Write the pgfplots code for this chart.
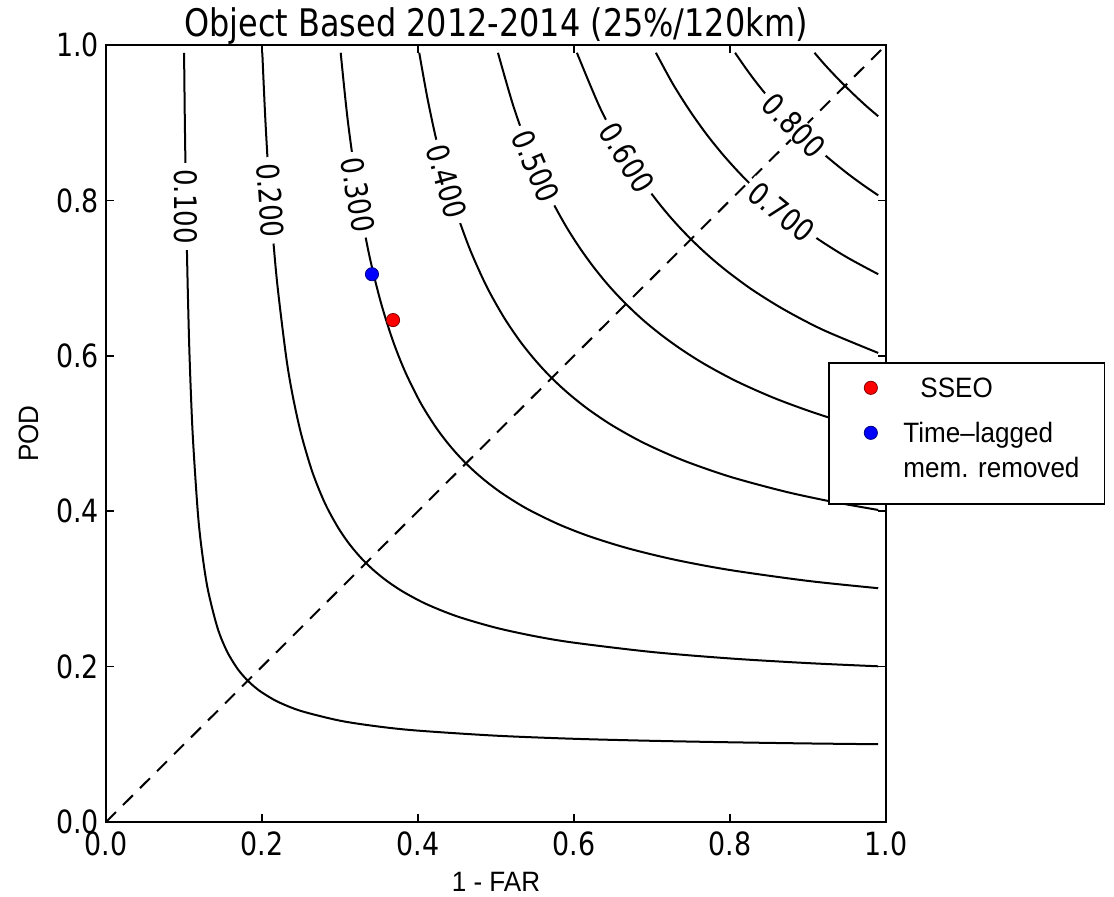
\documentclass[border=0pt]{standalone}
\usepackage{pgfplots}
\pgfplotsset{compat=1.18}
\usepackage{fontspec}
\setmainfont{DejaVu Sans}
\newfontfamily\dvs[FakeStretch=0.84]{DejaVu Sans}
\newfontfamily\lib[FakeStretch=0.93]{Liberation Sans}
\tikzset{clabel/.style={font=\dvs\fontsize{15.5}{17}\selectfont, fill=white, inner xsep=3pt, inner ysep=0pt}}
\begin{document}
\begin{tikzpicture}
\useasboundingbox (-53pt,-37pt) rectangle (504pt,411pt);
\begin{axis}[
  at={(0,0)}, anchor=south west,
  scale only axis, width=390pt, height=388.5pt,
  xmin=0, xmax=1, ymin=0, ymax=1,
  xtick={0,0.2,0.4,0.6,0.8,1}, ytick={0,0.2,0.4,0.6,0.8,1},
  xticklabels={0.0,0.2,0.4,0.6,0.8,1.0},
  yticklabels={0.0,0.2,0.4,0.6,0.8,1.0},
  tick align=inside, major tick length=4pt,
  tick style={black, line width=0.8pt},
  axis line style={line width=1pt},
  ticklabel style={font=\dvs\fontsize{16}{18}\selectfont},
  xticklabel style={yshift=-1.5pt},
  every axis title shift=0pt,
  title={Object Based 2012-2014 (25\%/120km)},
  title style={font=\dvs\fontsize{19}{22}\selectfont, at={(axis description cs:0.5,1.0103)}, anchor=base},
  xlabel={1 - FAR},
  xlabel style={font=\lib\fontsize{14}{16}\selectfont, at={(axis description cs:0.5,-0.09)}, anchor=base},
  ylabel={POD},
  ylabel style={font=\lib\fontsize{14}{16}\selectfont, at={(axis description cs:-0.087,0.5)}, anchor=base},
  legend cell align=left,
  legend style={at={(axis description cs:0.9256,0.592)}, anchor=north west,
    draw=black, line width=0.8pt, fill=white,
    inner xsep=12.5pt, inner ysep=6.5pt, column sep=13pt, row sep=0pt,
    font=\lib\fontsize{14}{16}\selectfont, nodes={inner sep=0pt}},
  contour/.style={black, line width=1pt, smooth, forget plot},
]
% diagonal
\addplot[forget plot, black, line width=1pt, dash pattern=on 7pt off 5pt] coordinates {(0,0) (1,1)};
% CSI contours
\addplot[contour] coordinates {(0.1001,0.99) (0.1011,0.9) (0.1026,0.8) (0.1045,0.7) (0.1071,0.6) (0.1111,0.5) (0.1176,0.4) (0.1228,0.35) (0.1304,0.3) (0.1429,0.25) (0.1549,0.22) (0.1667,0.2) (0.1743,0.19) (0.1818,0.1818) (0.19,0.1743) (0.2,0.1667) (0.22,0.1549) (0.25,0.1429) (0.3,0.1304) (0.35,0.1228) (0.4,0.1176) (0.5,0.1111) (0.6,0.1071) (0.7,0.1045) (0.8,0.1026) (0.9,0.1011) (0.99,0.1001)};
\addplot[contour] coordinates {(0.2004,0.99) (0.2045,0.9) (0.2105,0.8) (0.2188,0.7) (0.2308,0.6) (0.2391,0.55) (0.25,0.5) (0.2647,0.45) (0.2808,0.41) (0.2969,0.38) (0.3103,0.36) (0.3224,0.345) (0.3333,0.3333) (0.345,0.3224) (0.36,0.3103) (0.38,0.2969) (0.41,0.2808) (0.45,0.2647) (0.5,0.25) (0.55,0.2391) (0.6,0.2308) (0.7,0.2188) (0.8,0.2105) (0.9,0.2045) (0.99,0.2004)};
\addplot[contour] coordinates {(0.3009,0.99) (0.3103,0.9) (0.3243,0.8) (0.3374,0.73) (0.3520,0.67) (0.3676,0.62) (0.3833,0.58) (0.4030,0.54) (0.4215,0.51) (0.4362,0.49) (0.4488,0.475) (0.4615,0.4615) (0.475,0.4488) (0.49,0.4362) (0.51,0.4215) (0.54,0.4030) (0.58,0.3833) (0.62,0.3676) (0.67,0.3520) (0.73,0.3374) (0.8,0.3243) (0.9,0.3103) (0.99,0.3009)};
\addplot[contour] coordinates {(0.4016,0.99) (0.4124,0.93) (0.4254,0.87) (0.4444,0.8) (0.4654,0.74) (0.4876,0.69) (0.5098,0.65) (0.5299,0.62) (0.5455,0.6) (0.5585,0.585) (0.5714,0.5714) (0.585,0.5585) (0.6,0.5455) (0.62,0.5299) (0.65,0.5098) (0.69,0.4876) (0.74,0.4654) (0.8,0.4444) (0.87,0.4254) (0.93,0.4124) (0.99,0.4016)};
\addplot[contour] coordinates {(0.5025,0.99) (0.5227,0.92) (0.5443,0.86) (0.5664,0.81) (0.5878,0.77) (0.6066,0.74) (0.6245,0.715) (0.6405,0.695) (0.6538,0.68) (0.6667,0.6667) (0.68,0.6538) (0.695,0.6405) (0.715,0.6245) (0.74,0.6066) (0.77,0.5878) (0.81,0.5664) (0.86,0.5443) (0.92,0.5227) (0.99,0.5025)};
\addplot[contour] coordinates {(0.6037,0.99) (0.6330,0.92) (0.6591,0.87) (0.6840,0.83) (0.7059,0.8) (0.7222,0.78) (0.7356,0.765) (0.75,0.75) (0.765,0.7356) (0.78,0.7222) (0.8,0.7059) (0.83,0.6840) (0.87,0.6591) (0.92,0.6330) (0.99,0.6037)};
\addplot[contour] coordinates {(0.7050,0.99) (0.7267,0.95) (0.7487,0.915) (0.7700,0.885) (0.7900,0.86) (0.8077,0.84) (0.8235,0.8235) (0.84,0.8077) (0.86,0.79) (0.885,0.77) (0.915,0.7487) (0.95,0.7267) (0.99,0.7050)};
\addplot[contour] coordinates {(0.8065,0.99) (0.8203,0.97) (0.8351,0.95) (0.8555,0.925) (0.8734,0.905) (0.8889,0.8889) (0.905,0.8734) (0.925,0.8555) (0.95,0.8351) (0.97,0.8203) (0.99,0.8065)};
\addplot[contour] coordinates {(0.9083,0.99) (0.9212,0.975) (0.9351,0.96) (0.9474,0.9474) (0.96,0.9351) (0.975,0.9212) (0.99,0.9083)};
% contour labels
\node[clabel, rotate=-90]   at (axis cs:0.1027,0.792) {0.100};
\node[clabel, rotate=-86]   at (axis cs:0.2105,0.800) {0.200};
\node[clabel, rotate=-81]   at (axis cs:0.3230,0.807) {0.300};
\node[clabel, rotate=-74.3] at (axis cs:0.4370,0.824) {0.400};
\node[clabel, rotate=-67]   at (axis cs:0.5510,0.844) {0.500};
\node[clabel, rotate=-58.6] at (axis cs:0.6680,0.855) {0.600};
\node[clabel, rotate=-39.4] at (axis cs:0.8660,0.785) {0.700};
\node[clabel, rotate=-45.9] at (axis cs:0.8820,0.896) {0.800};
% points
\addplot[red, only marks, mark=*, mark size=3.3pt, mark options={fill=red, draw=black!50!red, line width=0.4pt}, legend image post style={yshift=5.25pt}] coordinates {(0.368,0.646)};
\addlegendentry[text height=11pt, text depth=11.5pt]{\hspace{8.5pt}SSEO}
\addplot[blue, only marks, mark=*, mark size=3.3pt, mark options={fill=blue, draw=black!50!blue, line width=0.4pt}, legend image post style={yshift=2.75pt}] coordinates {(0.341,0.705)};
\addlegendentry[text height=11pt, text depth=6.5pt]{Time–lagged}
\addlegendimage{empty legend}
\addlegendentry[text height=11pt, text depth=6.5pt]{mem. removed}
\end{axis}
\end{tikzpicture}
\end{document}
